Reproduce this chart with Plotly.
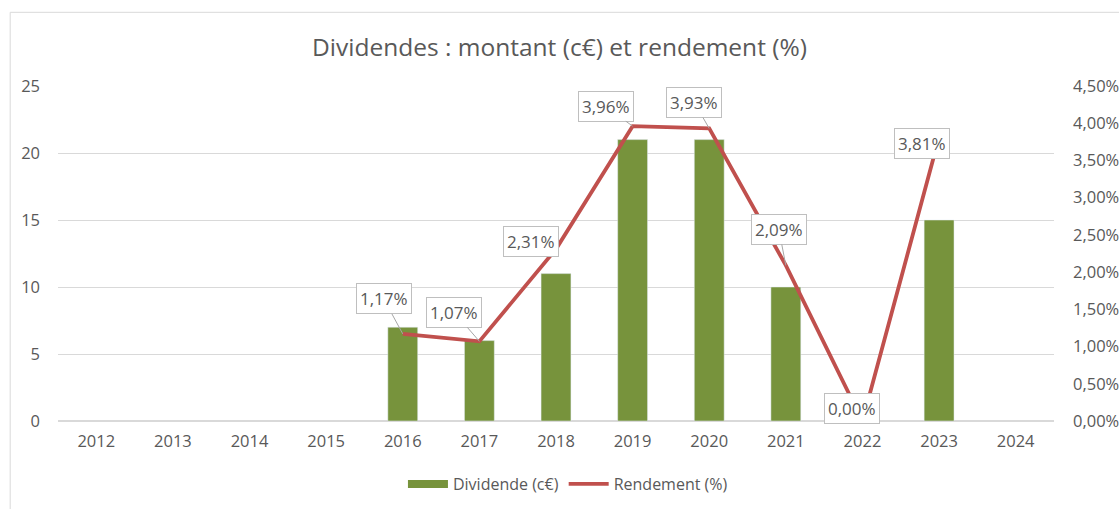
import plotly.graph_objects as go

years = list(range(2012, 2025))
div_years = [2016, 2017, 2018, 2019, 2020, 2021, 2022, 2023]
dividende = [7, 6, 11, 21, 21, 10, 0, 15]
rendement = [0.0117, 0.0107, 0.0231, 0.0396, 0.0393, 0.0209, 0.0, 0.0381]

# label box offsets (px) relative to each point
label_dx = [-19, -25, -25, -27, -15, -7, -10, -17]
label_dy = [-35, -29, -8, -20, -26, -36, -13, 6]

green = '#77933C'
red = '#C0504D'
grey_txt = '#595959'
font = 'Open Sans'

fig = go.Figure()
fig.add_trace(go.Bar(x=div_years, y=dividende, marker_color=green, width=0.39,
                     name='Dividende (c€)', showlegend=False))
fig.add_trace(go.Scatter(x=div_years, y=rendement, yaxis='y2', mode='lines',
                         line=dict(color=red, width=3.8), name='Rendement (%)',
                         showlegend=False))
# legend stand-ins
fig.add_trace(go.Scatter(x=[None], y=[None], mode='lines',
                         line=dict(color=green, width=8), name='Dividende (c€)'))
fig.add_trace(go.Scatter(x=[None], y=[None], mode='lines',
                         line=dict(color=red, width=3.8), name='Rendement (%)'))

for yr, v, dx, dy in zip(div_years, rendement, label_dx, label_dy):
    fig.add_annotation(x=yr, y=v, xref='x', yref='y2', text=f'{v * 100:.2f}%'.replace('.', ','),
                       showarrow=True, arrowhead=0, arrowwidth=1, arrowcolor='#A6A6A6',
                       ax=dx, ay=dy, bgcolor='white', bordercolor='#BFBFBF',
                       borderwidth=1, borderpad=3, font=dict(size=17, color=grey_txt))

fig.add_shape(type='rect', xref='paper', yref='paper', x0=-0.048, x1=1.2, y0=-0.3, y1=1.22,
              line=dict(color='#D9D9D9', width=1), layer='below')

fig.update_layout(
    width=1119, height=509,
    margin=dict(l=58, r=65, t=86, b=88),
    paper_bgcolor='white', plot_bgcolor='white',
    separators=', ',
    font=dict(family=font, size=16.5, color=grey_txt),
    title=dict(text='Dividendes : montant (c€) et rendement (%)', x=0.5, xanchor='center',
               y=0.907, yanchor='middle', font=dict(size=24.5, color=grey_txt)),
    xaxis=dict(range=[2011.5, 2024.5], tickvals=years, showgrid=False, showline=False,
               zeroline=False, ticks='', ticklabelstandoff=8, automargin=False),
    yaxis=dict(range=[0, 25], dtick=5, showgrid=True, gridcolor='#D9D9D9', gridwidth=1,
               zeroline=True, zerolinecolor='#D9D9D9', showline=False, ticks='',
               ticklabelstandoff=17, automargin=False),
    yaxis2=dict(range=[0, 0.045], dtick=0.005, tickformat='.2%', overlaying='y', side='right',
                showgrid=False, zeroline=False, showline=False, ticks='', ticklabelstandoff=18,
                automargin=False),
    legend=dict(orientation='h', x=0.512, xanchor='center', yref='container', y=0.049,
                yanchor='middle', font=dict(size=16, color=grey_txt), itemwidth=40),
)

fig.write_html('out.html', config={'displayModeBar': False},
               post_script="document.body.style.margin='0';")
